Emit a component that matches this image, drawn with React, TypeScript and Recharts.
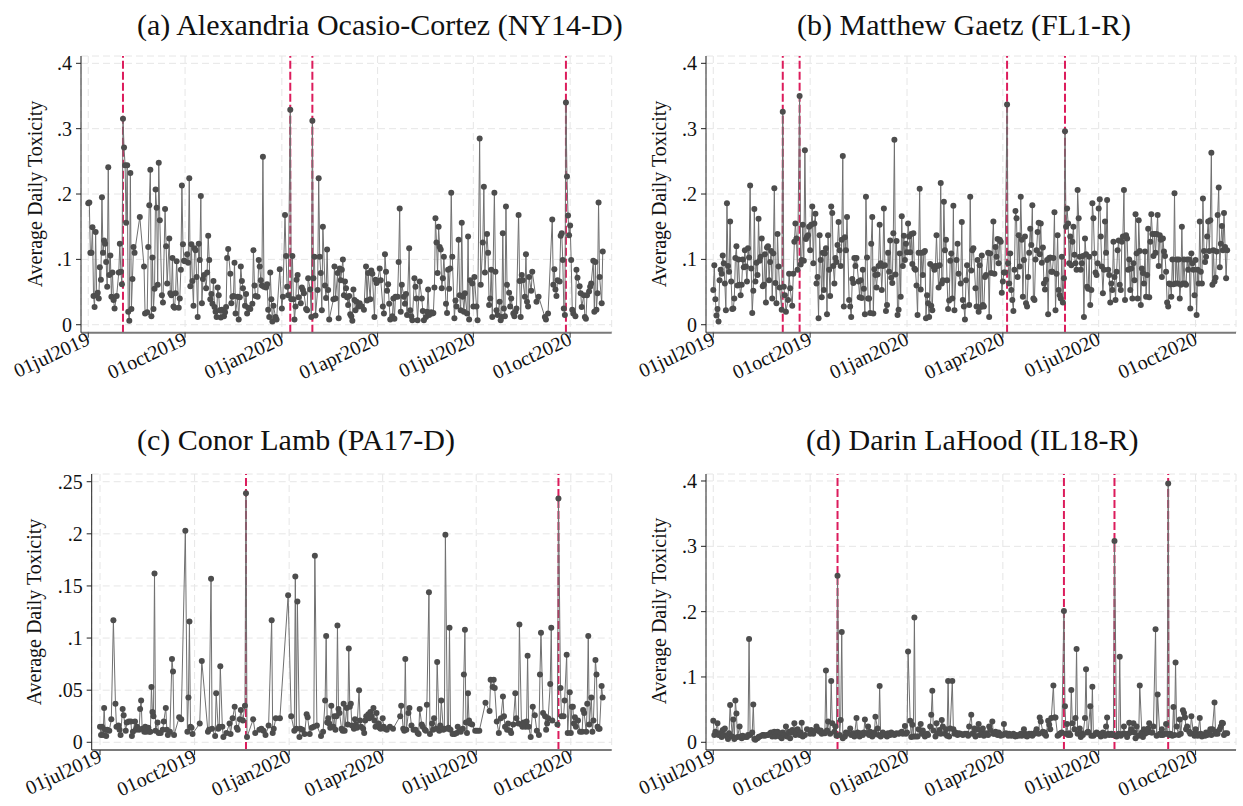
import { LineChart, Line, XAxis, YAxis, CartesianGrid, ReferenceLine } from "recharts";

// gap marker for days without any tweets
const n = null;

const FONT = "Liberation Serif";

// days counted from 01jul2019
const dateTicks = [0, 92, 184, 275, 366, 458];
const dateLabels = ["01jul2019", "01oct2019", "01jan2020", "01apr2020", "01jul2020", "01oct2020"];

const titles = [
  "(a) Alexandria Ocasio-Cortez (NY14-D)",
  "(b) Matthew Gaetz (FL1-R)",
  "(c) Conor Lamb (PA17-D)",
  "(d) Darin LaHood (IL18-R)",
];
const yTitle = "Average Daily Toxicity";

const ticksTenths = [0, 0.1, 0.2, 0.3, 0.4];
const ticksTwentieths = [0, 0.05, 0.1, 0.15, 0.2, 0.25];

// event days (dashed markers)
const aocEvents = [33, 192, 213, 454];
const gaetzEvents = [66, 82, 279, 334];
const lambEvents = [142, 446];
const lahoodEvents = [118, 333, 381, 432];

// one value per day, ten days per row
const aocToxicity = [
  .186,.187,.11,.11,.149,.044,.027,.142,.045,.049,
  .04,.088,.069,.195,.11,.129,.124,.096,.058,.241,
  .076,.106,.043,.08,.038,.025,n,.044,n,.08,
  .124,.081,.062,.315,.271,.244,.156,.244,.02,.006,
  .232,.024,.07,.119,.11,n,n,n,n,.165,
  n,n,n,.089,.017,n,.019,.119,.183,.237,
  .013,.103,.024,.055,.207,.179,.061,.248,.16,n,
  .045,.034,n,.177,.12,.063,n,.132,.048,.045,
  .102,.028,.026,.048,.097,n,.026,.04,.084,.213,
  .123,.098,.097,n,.108,.095,.224,.059,.123,.067,
  .029,.117,.114,.073,.012,.124,.099,.197,.033,.07,
  .076,n,.056,.08,.136,.099,.039,.047,.032,.067,
  .027,.02,.012,.057,.045,.022,.011,.023,n,.013,
  .019,.027,.102,.116,n,.078,.033,.043,.044,.095,
  .017,n,.043,.008,.042,.089,.067,.056,n,.029,
  .047,.017,.026,n,.024,n,.032,.114,.06,.044,
  n,.043,.099,.089,.068,.06,.257,.058,n,.057,
  .062,.023,.012,.08,.039,.005,.029,n,.012,.008,
  n,n,.085,n,.025,.043,n,.168,.105,.058,
  .045,n,.329,.039,.105,.039,.008,.028,.069,.076,
  .042,n,.033,.057,.053,.048,n,.024,.022,.071,
  n,.054,.012,.312,.071,.104,.014,n,.053,.224,
  .104,.079,.022,.15,n,.06,.041,.115,.053,.008,
  n,n,n,.039,.089,.04,n,.079,.01,.086,
  .068,.084,.1,.045,.066,.056,.042,.03,.044,.016,
  .013,.006,.054,.038,.022,.035,n,.028,.033,n,
  .028,n,.023,n,.089,.037,.079,n,.039,.083,
  .078,n,.012,.069,.064,.067,n,.086,.068,n,
  .028,.017,.108,.081,.052,.062,.032,.008,n,.013,
  .04,.009,.043,n,.043,.096,.178,.02,.061,n,
  .043,.032,.047,.015,n,.117,.022,.013,.007,n,
  .071,.058,.04,.007,n,.066,n,.04,.021,.007,
  n,.012,.02,.054,.015,n,.019,.017,.018,.057,
  .163,.126,.079,.15,.119,.115,.056,.071,.104,n,
  .032,.018,.084,.055,.086,.202,.104,n,.01,.037,
  .028,n,.13,.045,.022,.156,.043,.02,.048,n,
  .017,.135,.008,.068,n,.063,.028,.073,n,.028,
  .007,n,.285,.061,n,.126,.211,.08,n,.139,
  .11,.03,.04,.084,.012,n,.202,.081,.022,.015,
  n,.035,.007,.012,.14,.025,.013,.181,.061,n,
  .049,.028,.04,n,.017,.013,.02,.025,n,.168,
  .067,.012,.076,.068,n,.043,.108,.035,.028,.073,
  n,.052,.081,n,n,n,.035,n,.043,n,
  n,n,n,n,.012,.008,n,.017,n,n,
  n,.161,.061,.085,.054,.044,.068,n,.066,.136,
  .14,.099,.025,.015,.34,.227,.167,.137,.152,.099,
  .023,.017,n,.013,.084,.072,n,.059,.048,.027,
  n,.045,.012,.009,.045,n,.051,.058,.063,n,
  .098,.02,.096,.023,.048,.187,.073,n,.033,.112,
];

const gaetzToxicity = [
  .053,.091,.039,.014,.024,.005,.068,.084,.078,.106,
  .094,.063,.022,.186,.09,.081,.158,.066,.024,.025,
  .04,.102,.12,.06,.1,.061,.045,.061,.1,.088,
  .114,.089,.066,.117,.103,.213,.086,.018,.052,.177,
  .066,.095,.076,.162,.098,.104,.132,.059,.061,.108,
  .034,.118,.12,.068,.096,.113,.04,.109,.209,.064,
  .033,.139,.089,.057,n,.023,.326,.058,.045,.02,
  n,.038,.078,.056,n,.029,.078,.127,.155,.132,
  .084,n,.35,.092,.099,.153,.098,.267,.131,.135,
  .137,.15,.114,.153,.181,.094,.155,.17,.063,.073,
  .01,.137,.099,.042,.11,.053,.109,.117,.016,.137,
  .084,.044,.181,.171,.09,.063,.102,.096,.122,.157,
  .114,.09,.13,.258,.028,.134,.114,.165,n,.038,
  .028,.012,.07,.064,.102,.09,.102,n,.066,.042,
  .068,.041,.084,.055,.016,.196,.103,.04,.04,.018,
  .124,.165,.017,.085,.076,.057,.077,.09,.153,.094,
  .053,.09,.178,.091,.021,.03,.11,.081,.129,.072,
  .064,.14,.283,.077,.128,.015,.023,.109,.043,.166,
  .09,.136,.099,.124,.111,.155,.135,.111,.139,.093,
  .14,.086,.084,.06,.015,.11,.208,.054,.11,.076,
  .111,.113,.01,.045,.033,.012,.093,.029,.022,.089,
  .084,.09,.137,.09,.057,.091,.217,.063,.068,.188,
  .114,.13,.068,.024,.037,.098,.109,.04,.182,.022,
  n,.099,.124,.078,n,.063,.157,.038,.028,.008,
  .068,.091,n,.03,.196,.083,.114,.117,n,.056,
  .028,.099,.02,.091,.027,.106,.03,.028,.073,.076,
  n,.11,.012,.109,.079,n,.158,.078,.119,.104,
  .131,.094,.13,.127,.049,.066,.08,.08,n,.337,
  .094,.063,.109,.053,.038,.021,.084,.174,.163,.073,
  .137,.089,.196,.13,.043,.099,.135,.033,.028,.073,
  .11,.147,.122,.183,.04,.038,.1,.114,.142,.156,
  .108,.155,.095,.118,.063,.054,.069,.099,.016,.102,
  .103,.081,.081,.102,.172,.022,.078,.137,.053,.045,
  .04,.104,.034,.071,.296,.15,.178,.155,.094,.135,
  .091,.127,.15,.107,.094,.084,.206,.163,.104,.084,
  .094,.105,.012,.132,.108,.058,.055,.104,.03,.053,
  .186,.163,.109,.08,.076,.094,.178,.192,.135,.089,
  .048,.084,.158,.11,.191,.084,.076,.034,.063,.053,
  .127,.073,.038,.081,.114,.129,.061,.053,.127,.135,
  .206,.038,.137,.132,.084,.1,.053,.086,.04,.094,
  .068,.169,.109,.04,.16,.113,.03,.086,.079,.063,
  .112,.043,.076,.147,.042,.127,.169,.139,.105,.139,
  .11,.139,.168,.09,.137,.13,.073,.132,.112,.105,
  .081,.034,.028,.063,.062,.043,.1,.062,.201,.063,
  .1,.063,.1,.04,.061,.15,.063,.1,.063,.061,
  .1,.084,.1,.025,.109,.094,.084,.045,.099,.015,
  .084,.063,.158,.081,.063,.193,.113,.096,.104,.135,
  .158,.113,.16,.263,.061,.114,.066,.072,.112,.168,
  .21,.088,.124,.151,.114,.171,.119,.071,.114,
];

const lambToxicity = [
  .015,.007,.015,.007,.033,.012,.006,.012,n,.011,
  n,.022,n,.117,n,.037,.015,n,.016,.012,
  .007,n,.032,.026,n,.011,.019,n,.02,n,
  .02,.006,.01,n,.02,.012,.015,n,.012,.032,
  .04,.013,n,.01,.015,.01,n,.014,.01,.01,
  .053,.029,.025,.162,.011,n,.019,.009,n,.009,
  n,.012,.02,n,.033,.012,.007,n,.01,n,
  .08,.068,.007,n,n,n,n,.024,n,.022,
  n,n,n,.203,n,.01,.043,.116,.015,.014,
  .008,n,n,n,n,n,n,.018,n,.078,
  n,n,n,n,n,.01,.012,n,.157,.013,
  n,n,.006,.047,n,.013,.015,.073,n,.015,
  .005,n,n,.009,n,n,.018,.008,n,.023,
  n,.034,n,.014,.012,n,.022,.031,n,.021,
  n,.035,.239,.005,n,n,n,n,n,.022,
  n,.009,n,n,n,.012,n,.013,n,.011,
  n,.007,n,n,.016,n,n,.117,.009,.013,
  n,.023,n,n,n,.023,n,n,n,n,
  n,n,n,.141,n,n,.025,n,n,.011,
  .159,.013,.135,n,.005,.013,n,.012,n,.008,
  n,.027,.024,n,.008,n,.014,n,.015,.179,
  n,.016,n,n,n,.006,n,.01,n,.04,
  .102,.019,.023,.018,.014,.035,n,.015,.025,.012,
  .025,.112,.032,.028,n,.013,.011,.037,.011,n,
  .033,.017,.09,.034,.037,.016,n,.013,.022,.017,
  .014,n,.05,.021,.015,n,.013,.009,.021,.025,
  n,.027,.023,.029,.025,n,.033,.021,.015,.028,
  n,.018,.014,.013,n,.023,.015,.013,n,.012,
  n,n,.015,n,n,.013,n,n,n,n,
  n,n,.025,.035,n,.013,.011,.08,.012,n,
  .028,.033,n,.016,n,.012,n,.012,n,.009,
  .008,.032,n,.017,.015,n,.012,.011,.036,n,
  .144,.008,n,.018,.012,.023,n,.013,.077,n,
  .011,.016,.04,n,.012,.013,.199,n,.013,.014,
  .11,.012,n,.008,n,.008,n,.009,.015,n,
  .012,.01,n,.013,.065,.108,.019,.009,.047,.021,
  .018,n,.017,n,n,.011,n,.011,n,.011,
  n,n,n,n,n,.038,n,n,n,.03,
  .06,n,.053,.06,.052,n,.02,n,.009,n,
  .023,n,.044,.025,.015,n,.012,.018,n,.011,
  .009,n,.017,n,.047,.023,n,.018,.113,n,
  .017,.015,.019,n,.015,.02,.083,.015,n,.005,
  n,.034,n,.026,n,.011,n,.007,.065,.105,
  n,.028,n,.025,.012,.018,.023,n,.056,.11,
  .021,n,n,n,n,.017,.234,n,.052,.025,
  n,.025,.04,n,.084,.009,n,.048,.009,.034,
  .034,.018,.024,.015,n,.021,n,.01,n,.01,
  .031,.028,n,.01,.037,.102,.017,n,.043,.01,
  .021,n,.079,.065,.015,.013,.013,n,.054,.043,
];

const lahoodToxicity = [
  .033,.011,.016,n,.029,.011,.014,n,.008,.019,
  .011,.021,n,.009,.005,.014,.057,n,.009,.035,
  .005,.064,.044,.008,n,.024,.009,.006,.01,n,
  .008,n,.008,.011,.158,.011,n,.015,.058,.005,
  .004,n,.006,.008,.009,n,.01,.011,.011,.01,
  n,.011,.011,n,.014,.015,.009,n,.016,.009,
  .014,.016,n,.009,.014,.006,.015,n,.011,.024,
  .009,n,.016,.006,.015,.019,n,.029,.011,.015,
  .02,n,.011,.015,.03,.009,n,.011,n,.02,
  n,n,.013,.019,n,.013,n,.018,.024,.02,
  n,.016,.018,.013,.015,n,.014,.11,.018,.032,
  n,.013,.094,.029,n,.016,.024,.01,.255,n,
  .011,.034,.169,.006,n,.009,.015,n,.014,n,
  .021,.011,n,.014,.009,n,.037,.015,n,.009,
  .014,n,.011,.015,.035,n,.014,.024,.011,.016,
  n,.009,.011,.015,.039,n,.021,.011,.086,.009,
  n,.015,.013,.011,n,.009,.014,n,.011,.015,
  n,.013,.011,n,.014,n,.013,.014,n,.016,
  .013,n,.025,.013,.015,.139,n,.033,.008,.027,
  .009,.191,.009,n,.009,.02,n,.028,.013,.018,
  n,.009,n,.013,.011,n,.024,.042,.079,.018,
  n,.009,.029,.014,n,.019,.013,.034,.024,n,
  .013,.02,.01,.094,.009,.021,n,.094,.02,.013,
  .015,n,.011,.014,.013,.013,n,.011,n,.013,
  n,.013,.01,.024,n,.042,.013,.014,.021,.009,
  n,.02,.028,.011,n,.015,.021,.01,.013,.014,
  n,.011,.024,.019,n,.032,.013,.013,.016,n,
  .011,.015,.013,.01,n,.011,.028,.013,.014,n,
  .01,.013,.011,.01,n,.013,.01,.009,.011,n,
  .01,.011,.013,.01,n,.02,.013,.01,.009,n,
  .013,.011,.013,.01,n,.013,.015,.02,n,.013,
  .038,.032,n,.016,.013,.015,.01,n,.033,.027,
  .02,.037,n,.087,.038,.038,n,.01,.011,.013,
  .014,.015,n,.201,.055,.013,.028,.011,.014,.011,
  .08,.029,n,.02,.037,.143,.013,n,.021,.008,
  .014,.011,n,.037,.112,.015,.016,n,.055,.01,
  .085,.01,n,.013,.015,.013,.013,n,.009,.011,
  .015,n,.01,.024,.038,.013,.011,n,.013,.011,
  .011,.308,n,.009,.011,.013,.131,.01,n,.013,
  .024,.013,n,.008,.013,.03,.015,.02,n,.029,
  .015,.006,.024,n,.01,.087,n,.015,.008,.02,
  .013,n,.015,.021,.029,n,.015,.015,.024,n,
  .173,.01,.073,n,.013,.011,.02,.011,n,.013,
  .028,.013,.396,.011,.013,n,.01,.054,.011,.122,
  .024,n,.011,.035,.013,n,.049,.045,.038,.02,
  .024,n,.016,.013,.04,n,.013,.01,.02,.013,
  .01,n,.037,.013,.009,.011,n,.01,.015,.011,
  .013,n,.02,.011,.02,n,.061,.013,.016,.013,
  n,.02,.024,.03,.029,.011,.014,n,.014,
];

const shareLabel = (v: number) => (v === 0 ? "0" : String(v).replace(/^0/, ""));

function DateTick({ x, y, payload }: any) {
  const label = dateLabels[dateTicks.indexOf(payload.value)];
  const tx = x + 3;
  const ty = y + 4;
  return (
    <text
      x={tx}
      y={ty}
      transform={`rotate(-25 ${tx} ${ty})`}
      textAnchor="end"
      fontSize={20}
      fontFamily={FONT}
      fill="#111"
    >
      {label}
    </text>
  );
}

type PanelProps = {
  values: (number | null)[];
  events: number[];
  left: number;
  top: number;
  width: number;
  height: number;
  margin: { top: number; right: number; bottom: number; left: number };
  xDomain: [number, number];
  yDomain: [number, number];
  yTicks: number[];
  xHeight: number;
};

function Panel(p: PanelProps) {
  const data = p.values.map((tox, day) => ({ day, tox }));
  return (
    <div style={{ position: "absolute", left: p.left, top: p.top }}>
      <LineChart width={p.width} height={p.height} data={data} margin={p.margin}>
        <CartesianGrid stroke="#e6e6e6" strokeDasharray="7 4" />
        <XAxis
          dataKey="day"
          type="number"
          domain={p.xDomain}
          allowDataOverflow
          ticks={dateTicks}
          interval={0}
          height={p.xHeight}
          tick={<DateTick />}
          tickSize={5}
          axisLine={{ stroke: "#7a7a7a", strokeWidth: 2 }}
          tickLine={{ stroke: "#333" }}
        />
        <YAxis
          type="number"
          domain={p.yDomain}
          allowDataOverflow
          ticks={p.yTicks}
          interval={0}
          width={60}
          tickFormatter={shareLabel}
          tickSize={5}
          tickMargin={4}
          tick={{ fontSize: 20, fontFamily: FONT, fill: "#111" }}
          axisLine={{ stroke: "#222" }}
          tickLine={{ stroke: "#222" }}
        />
        {p.events.map((d) => (
          <ReferenceLine key={d} x={d} stroke="#dc1c5c" strokeWidth={2} strokeDasharray="8 3" />
        ))}
        <Line
          type="linear"
          dataKey="tox"
          connectNulls
          stroke="#707070"
          strokeWidth={1}
          dot={{ r: 3, fill: "#4d4d4d", stroke: "#4d4d4d", strokeWidth: 0 }}
          activeDot={false}
          isAnimationActive={false}
        />
      </LineChart>
    </div>
  );
}

function Title({ x, y, text }: { x: number; y: number; text: string }) {
  return (
    <text x={x} y={y} fontSize={30} fontFamily={FONT} fill="#111">
      {text}
    </text>
  );
}

function AxisTitle({ x, y }: { x: number; y: number }) {
  return (
    <text
      x={x}
      y={y}
      fontSize={20}
      fontFamily={FONT}
      fill="#111"
      textAnchor="middle"
      transform={`rotate(-90 ${x} ${y})`}
    >
      {yTitle}
    </text>
  );
}

export default function App() {
  return (
    <div style={{ position: "absolute", left: 0, top: 0, width: 1243, height: 806, background: "#fff" }}>
      <Panel
        values={aocToxicity}
        events={aocEvents}
        left={0}
        top={40}
        width={620}
        height={360}
        margin={{ top: 16, right: 8.3, bottom: 7.3, left: 21 }}
        xDomain={[-6.9, 497.5]}
        yDomain={[-0.0122, 0.4112]}
        yTicks={ticksTenths}
        xHeight={60}
      />
      <Panel
        values={gaetzToxicity}
        events={gaetzEvents}
        left={625}
        top={40}
        width={618}
        height={360}
        margin={{ top: 16, right: 7, bottom: 7.3, left: 21 }}
        xDomain={[-6.9, 496.4]}
        yDomain={[-0.0122, 0.4112]}
        yTicks={ticksTenths}
        xHeight={60}
      />
      <Panel
        values={lambToxicity}
        events={lambEvents}
        left={0}
        top={458}
        width={620}
        height={348}
        margin={{ top: 16, right: 8.3, bottom: 6, left: 31.7 }}
        xDomain={[-8.1, 497.8]}
        yDomain={[-0.0074, 0.2574]}
        yTicks={ticksTwentieths}
        xHeight={50}
      />
      <Panel
        values={lahoodToxicity}
        events={lahoodEvents}
        left={625}
        top={458}
        width={618}
        height={348}
        margin={{ top: 16, right: 7, bottom: 6, left: 21 }}
        xDomain={[-6.9, 496.4]}
        yDomain={[-0.0118, 0.4107]}
        yTicks={ticksTenths}
        xHeight={50}
      />
      <svg
        width={1243}
        height={806}
        style={{ position: "absolute", left: 0, top: 0, pointerEvents: "none" }}
      >
        <Title x={137} y={35} text={titles[0]} />
        <Title x={797} y={35} text={titles[1]} />
        <Title x={137} y={450} text={titles[2]} />
        <Title x={806} y={450} text={titles[3]} />
        <AxisTitle x={41.5} y={194} />
        <AxisTitle x={666} y={194} />
        <AxisTitle x={40.7} y={612} />
        <AxisTitle x={666} y={611} />
      </svg>
    </div>
  );
}
